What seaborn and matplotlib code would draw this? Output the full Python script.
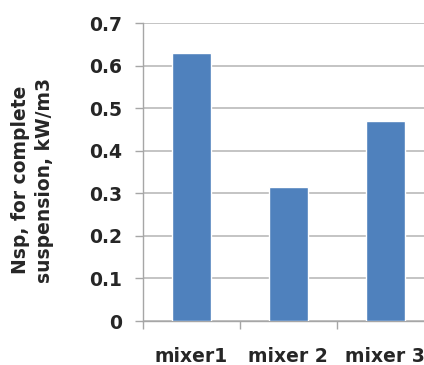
import matplotlib
matplotlib.use("Agg")
import matplotlib.pyplot as plt
import seaborn as sns
from matplotlib.ticker import FixedLocator

categories = ["mixer1", "mixer 2", "mixer 3"]
values = [0.63, 0.315, 0.47]
y_ticks = [0, 0.1, 0.2, 0.3, 0.4, 0.5, 0.6, 0.7]
y_tick_labels = ["0", "0.1", "0.2", "0.3", "0.4", "0.5", "0.6", "0.7"]

sns.set_theme(style="white")
plt.rcParams["font.family"] = ["DejaVu Sans"]

fig = plt.figure(figsize=(4.24, 3.65), dpi=100)
# axes runs past the right edge, as in the cropped original
ax = fig.add_axes([0.337, 0.1205, 0.686, 0.816])

sns.barplot(x=categories, y=values, color="#4F81BD", saturation=1, width=0.4, ax=ax, zorder=3)

ax.set_ylim(0, 0.7)
ax.set_xlim(-0.5, 2.5)
ax.set_yticks(y_ticks)
ax.set_yticklabels(y_tick_labels, fontsize=13.5, fontweight="bold", color="#262626")
ax.set_xticks(range(len(categories)))
ax.set_xticklabels(categories, fontsize=13.5, fontweight="bold", color="#262626")
ax.xaxis.set_minor_locator(FixedLocator([-0.5, 0.5, 1.5, 2.5]))
ax.tick_params(axis="x", which="major", length=0, pad=19)
ax.tick_params(axis="x", which="minor", length=6, color="#A6A6A6", width=1, direction="out", bottom=True)
ax.tick_params(axis="y", length=6, color="#A6A6A6", width=1, direction="out", left=True, pad=9)

ax.yaxis.grid(True, color="#BFBFBF", linewidth=1.3, zorder=0)
ax.set_axisbelow(True)
for side in ["top", "right"]:
    ax.spines[side].set_visible(False)
for side in ["left", "bottom"]:
    ax.spines[side].set_color("#A6A6A6")
    ax.spines[side].set_linewidth(1)

ax.set_xlabel("")
ax.set_ylabel("Nsp, for complete\nsuspension, kW/m3", fontsize=13.5, fontweight="bold",
              labelpad=25, linespacing=1.35, color="#262626")
ax.yaxis.label.set_y(0.473)

fig.savefig("out.png", dpi=100)
